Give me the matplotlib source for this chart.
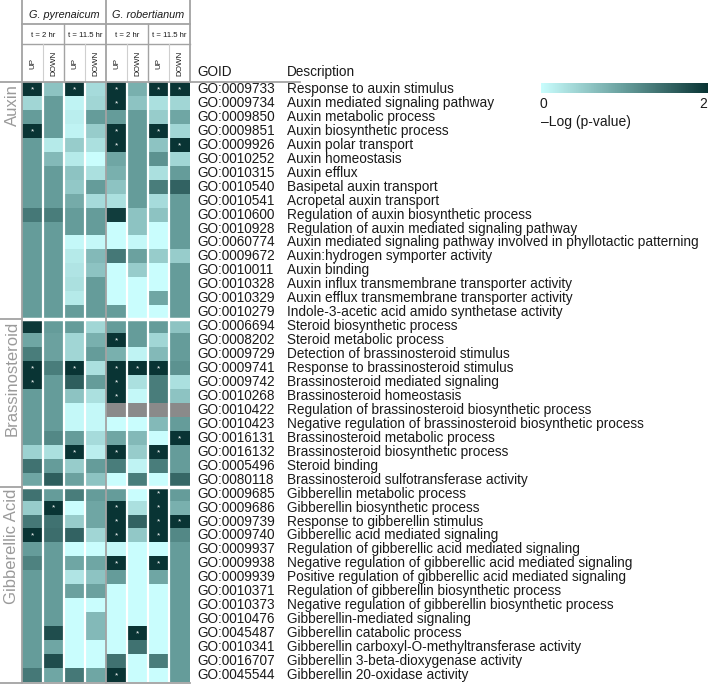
import numpy as np
import matplotlib
matplotlib.use("Agg")
import matplotlib.pyplot as plt
from matplotlib.colors import LinearSegmentedColormap

plt.rcParams['font.family'] = ['Liberation Sans', 'DejaVu Sans']

# column groups
species = ["G. pyrenaicum", "G. robertianum"]
times = ["t = 2 hr", "t = 11.5 hr", "t = 2 hr", "t = 11.5 hr"]
directions = ["UP", "DOWN", "UP", "DOWN", "UP", "DOWN", "UP", "DOWN"]

groups = ["Auxin", "Brassinosteroid", "Gibberellic Acid"]
group_sizes = [17, 12, 14]

goids = [
    "GO:0009733", "GO:0009734", "GO:0009850", "GO:0009851", "GO:0009926", "GO:0010252",
    "GO:0010315", "GO:0010540", "GO:0010541", "GO:0010600", "GO:0010928", "GO:0060774",
    "GO:0009672", "GO:0010011", "GO:0010328", "GO:0010329", "GO:0010279",
    "GO:0006694", "GO:0008202", "GO:0009729", "GO:0009741", "GO:0009742", "GO:0010268",
    "GO:0010422", "GO:0010423", "GO:0016131", "GO:0016132", "GO:0005496", "GO:0080118",
    "GO:0009685", "GO:0009686", "GO:0009739", "GO:0009740", "GO:0009937", "GO:0009938",
    "GO:0009939", "GO:0010371", "GO:0010373", "GO:0010476", "GO:0045487", "GO:0010341",
    "GO:0016707", "GO:0045544",
]

descriptions = [
    "Response to auxin stimulus",
    "Auxin mediated signaling pathway",
    "Auxin metabolic process",
    "Auxin biosynthetic process",
    "Auxin polar transport",
    "Auxin homeostasis",
    "Auxin efflux",
    "Basipetal auxin transport",
    "Acropetal auxin transport",
    "Regulation of auxin biosynthetic process",
    "Regulation of auxin mediated signaling pathway",
    "Auxin mediated signaling pathway involved in phyllotactic patterning",
    "Auxin:hydrogen symporter activity",
    "Auxin binding",
    "Auxin influx transmembrane transporter activity",
    "Auxin efflux transmembrane transporter activity",
    "Indole-3-acetic acid amido synthetase activity",
    "Steroid biosynthetic process",
    "Steroid metabolic process",
    "Detection of brassinosteroid stimulus",
    "Response to brassinosteroid stimulus",
    "Brassinosteroid mediated signaling",
    "Brassinosteroid homeostasis",
    "Regulation of brassinosteroid biosynthetic process",
    "Negative regulation of brassinosteroid biosynthetic process",
    "Brassinosteroid metabolic process",
    "Brassinosteroid biosynthetic process",
    "Steroid binding",
    "Brassinosteroid sulfotransferase activity",
    "Gibberellin metabolic process",
    "Gibberellin biosynthetic process",
    "Response to gibberellin stimulus",
    "Gibberellic acid mediated signaling",
    "Regulation of gibberellic acid mediated signaling",
    "Negative regulation of gibberellic acid mediated signaling",
    "Positive regulation of gibberellic acid mediated signaling",
    "Regulation of gibberellin biosynthetic process",
    "Negative regulation of gibberellin biosynthetic process",
    "Gibberellin-mediated signaling",
    "Gibberellin catabolic process",
    "Gibberellin carboxyl-O-methyltransferase activity",
    "Gibberellin 3-beta-dioxygenase activity",
    "Gibberellin 20-oxidase activity",
]

nan = np.nan
# -log(p-value), one row per GO term, columns as in `directions`
logp = [
    [2.0, 0.6, 2.0, 0.35, 2.0, 0.8, 2.0, 2.0],
    [0.4, 1.0, 0.1, 0.4, 2.0, 0.6, 0.3, 0.4],
    [1.0, 1.0, 0.15, 1.0, 1.0, 1.0, 0.5, 0.9],
    [2.0, 1.0, 0.1, 0.5, 2.0, 1.0, 2.0, 0.4],
    [1.0, 0.2, 0.5, 0.3, 2.0, 1.0, 0.6, 2.0],
    [1.0, 0.7, 0.2, 0.0, 0.9, 1.0, 1.1, 0.4],
    [1.0, 1.0, 0.6, 0.3, 0.8, 1.0, 0.3, 1.0],
    [1.0, 1.0, 0.55, 1.0, 0.6, 1.0, 1.3, 1.55],
    [1.0, 1.0, 0.85, 0.35, 0.3, 1.0, 0.35, 1.0],
    [1.35, 1.3, 1.0, 1.0, 1.9, 0.6, 0.6, 1.0],
    [1.0, 1.0, 1.0, 1.0, 0.0, 0.6, 0.0, 1.0],
    [1.0, 1.0, 0.05, 0.05, 0.0, 0.05, 0.0, 1.0],
    [1.0, 1.0, 0.2, 0.7, 1.35, 0.95, 0.5, 0.5],
    [1.0, 1.0, 0.25, 0.6, 0.0, 0.5, 0.0, 1.0],
    [1.0, 1.0, 0.3, 1.0, 0.0, 0.0, 0.0, 1.0],
    [1.0, 1.0, 0.2, 1.0, 0.0, 0.0, 0.9, 1.0],
    [1.0, 1.0, 1.0, 1.0, 1.0, 0.0, 0.0, 1.0],
    [1.95, 1.0, 1.0, 0.4, 1.0, 1.0, 1.0, 0.6],
    [0.9, 0.95, 0.4, 0.8, 2.0, 1.0, 0.4, 1.0],
    [1.3, 0.95, 0.4, 1.0, 0.8, 0.1, 0.7, 1.0],
    [2.0, 1.3, 2.0, 0.3, 2.0, 2.0, 2.0, 1.1],
    [2.0, 1.0, 1.6, 1.0, 2.0, 0.3, 1.3, 0.3],
    [1.0, 1.0, 0.6, 0.3, 2.0, 0.05, 1.3, 0.6],
    [1.0, 1.0, 0.05, 0.05, nan, nan, nan, nan],
    [1.0, 1.0, 0.05, 0.05, 0.0, 0.0, 0.7, 1.0],
    [1.0, 1.2, 1.0, 0.35, 0.9, 0.7, 0.0, 2.0],
    [0.45, 0.3, 2.0, 0.15, 2.0, 0.5, 2.0, 1.0],
    [1.4, 1.0, 0.5, 1.0, 1.3, 0.1, 1.3, 1.0],
    [0.9, 1.6, 0.95, 0.6, 0.0, 1.3, 0.0, 1.5],
    [1.4, 1.0, 1.3, 1.0, 1.0, 0.0, 2.0, 1.0],
    [0.5, 2.0, 0.0, 0.9, 2.0, 0.3, 2.0, 0.8],
    [1.35, 1.4, 0.5, 0.9, 2.0, 1.55, 2.0, 2.0],
    [2.0, 1.45, 1.55, 0.4, 2.0, 0.55, 2.0, 1.2],
    [1.0, 1.0, 0.0, 0.0, 0.05, 0.0, 0.0, 1.0],
    [1.25, 1.0, 0.9, 0.9, 2.0, 0.0, 2.0, 1.0],
    [1.0, 1.0, 0.25, 0.6, 1.0, 0.0, 0.9, 1.0],
    [1.0, 1.0, 0.95, 0.95, 0.0, 0.0, 0.0, 1.0],
    [1.0, 1.0, 0.0, 0.0, 0.0, 0.0, 0.0, 1.0],
    [1.0, 1.0, 0.0, 0.7, 0.0, 0.0, 0.0, 1.0],
    [1.0, 1.75, 0.0, 0.7, 0.0, 2.0, 0.0, 1.0],
    [1.0, 0.9, 0.0, 0.0, 0.0, 1.4, 0.0, 1.0],
    [1.0, 1.75, 0.0, 0.0, 1.4, 0.0, 1.3, 1.0],
    [1.35, 0.9, 1.35, 0.9, 2.0, 0.0, 0.0, 1.0],
]

# significant cells (row, column)
stars = [(0, 0), (0, 2), (0, 4), (0, 6), (0, 7), (1, 4), (3, 0), (3, 4), (3, 6),
         (4, 4), (4, 7), (18, 4), (20, 0), (20, 2), (20, 4), (20, 5), (20, 6),
         (21, 0), (21, 4), (22, 4), (25, 7), (26, 2), (26, 4), (26, 6), (29, 6),
         (30, 1), (30, 4), (30, 6), (31, 4), (31, 6), (31, 7), (32, 0), (32, 4),
         (32, 6), (34, 4), (34, 6), (39, 5), (42, 4)]

W, H = 709, 685
fig = plt.figure(figsize=(W / 100, H / 100), dpi=100)

# heatmap area in pixels
x0, x1, y0, y1 = 22, 190, 82, 682
grey = "#a3a3a3"

cmap = LinearSegmentedColormap.from_list("teal", ["#c9fdfd", "#669d9b", "#093434"])
cmap.set_bad("#8a8a8a")

ax = fig.add_axes([x0 / W, 1 - y1 / H, (x1 - x0) / W, (y1 - y0) / H])
data = np.ma.masked_invalid(np.array(logp))
im = ax.imshow(data, cmap=cmap, vmin=0, vmax=2, aspect="auto", interpolation="nearest")
ax.axis("off")
nrow = len(goids)

for c in [0.5, 1.5, 2.5, 4.5, 5.5, 6.5]:
    ax.axvline(c, color="white", lw=1.6)
bounds = np.cumsum(group_sizes)[:-1]
for b in bounds:
    ax.axhline(b - 0.5, color="white", lw=2.5)

for r, c in stars:
    ax.text(c, r + 0.05, "*", color="white", ha="center", va="center", fontsize=6)

# row labels
rowh = (y1 - y0) / nrow
colw = (x1 - x0) / len(directions)
gx = (197 - x0) / colw - 0.5
dx = (287 - x0) / colw - 0.5
for i in range(nrow):
    ax.text(gx, i, goids[i], ha="left", va="center", fontsize=9.8, color="#1a1a1a", clip_on=False)
    ax.text(dx, i, descriptions[i], ha="left", va="center", fontsize=9.8, color="#1a1a1a", clip_on=False)

# overlay for header and frame lines (pixel coordinates)
ov = fig.add_axes([0, 0, 1, 1], facecolor="none")
ov.set_xlim(0, W)
ov.set_ylim(H, 0)
ov.axis("off")

ov.plot([21.5, 21.5], [0, 683], color=grey, lw=1.3)
ov.plot([106, 106], [0, 683], color=grey, lw=1.3)
ov.plot([190, 190], [0, 82], color=grey, lw=1.3)
ov.plot([22, 190], [24, 24], color=grey, lw=1.3)
ov.plot([22, 190], [44, 44], color=grey, lw=1.0)
for xx in [64, 148]:
    ov.plot([xx, xx], [24, 82], color=grey, lw=1.0)
for xx in [43, 85, 127, 169]:
    ov.plot([xx, xx], [44, 82], color="#cfcfcf", lw=0.8)
ov.plot([0, 300], [81.5, 81.5], color=grey, lw=1.3)
ov.plot([0, 190], [683, 683], color=grey, lw=1.3)

gtop = [y0] + [y0 + b * rowh for b in bounds]
for yy in gtop[1:]:
    ov.plot([0, 22], [yy, yy], color=grey, lw=1.3)
for g, yy in zip(groups, gtop):
    ov.text(12, yy + 2, g, rotation=90, ha="center", va="top", fontsize=12, color="#9a9a9a")

for k, s in enumerate(species):
    ov.text(x0 + colw * (4 * k + 2), 15, s, ha="center", va="center", fontsize=7.8, style="italic", color="#1a1a1a")
for k, t in enumerate(times):
    ov.text(x0 + colw * (2 * k + 1), 35, t, ha="center", va="center", fontsize=5.6, color="#1a1a1a")
for k, d in enumerate(directions):
    ov.text(x0 + colw * (k + 0.5), 63, d, ha="center", va="center", rotation=90, fontsize=5.8, color="#1a1a1a")

ov.text(197, 72, "GOID", ha="left", va="center", fontsize=9.8, color="#1a1a1a")
ov.text(287, 72, "Description", ha="left", va="center", fontsize=9.8, color="#1a1a1a")

# colour bar
cax = fig.add_axes([541 / W, 1 - 93 / H, 167 / W, 10 / H])
cb = fig.colorbar(im, cax=cax, orientation="horizontal")
cb.outline.set_visible(False)
cb.set_ticks([])
ov.text(543, 104, "0", ha="center", va="center", fontsize=10, color="#1a1a1a")
ov.text(703, 104, "2", ha="center", va="center", fontsize=10, color="#1a1a1a")
ov.text(541, 122, "\u2013Log (p-value)", ha="left", va="center", fontsize=10, color="#1a1a1a")

fig.savefig("out.png", dpi=100)
